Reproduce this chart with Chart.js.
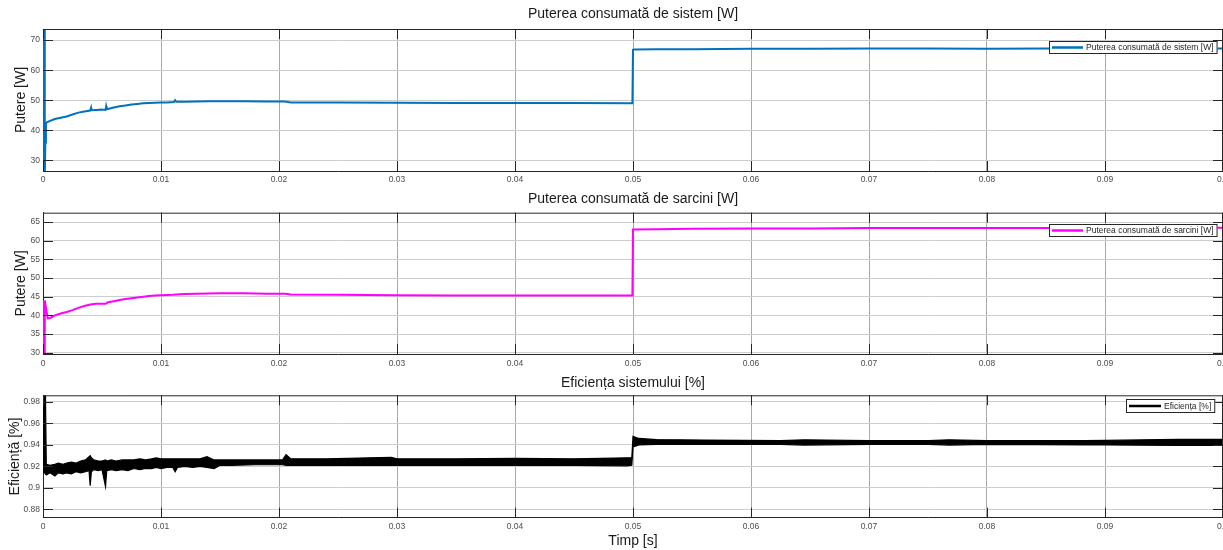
<!DOCTYPE html>
<html>
<head>
<meta charset="utf-8">
<script src="https://cdn.jsdelivr.net/npm/chart.js@4.4.0/dist/chart.umd.min.js"></script>
<style>
  html, body { margin: 0; padding: 0; background: #fff; overflow: hidden; }
  #wrap { position: relative; width: 1223px; height: 550px; }
  canvas { position: absolute; left: 0; }
</style>
</head>
<body>
<div id="wrap">
  <canvas id="c1" width="1223" height="185" style="top:0px"></canvas>
  <canvas id="c2" width="1223" height="185" style="top:185px"></canvas>
  <canvas id="c3" width="1223" height="180" style="top:370px"></canvas>
</div>
<script>
const FONT = "'Liberation Sans', Arial, sans-serif";
const TICK = '#4d4d4d';

// x axis (time, s)
const timeTicks = [0, 0.01, 0.02, 0.03, 0.04, 0.05, 0.06, 0.07, 0.08, 0.09, 0.1];

// power drawn by the system [W]
const sysTime  = [0, 0.0001, 0.00015, 0.0002, 0.00025, 0.0005, 0.001, 0.0015, 0.002, 0.0025, 0.003, 0.0035, 0.004, 0.00407, 0.0041,
                  0.0045, 0.005, 0.0053, 0.00535, 0.0054, 0.0055, 0.006, 0.0065, 0.007, 0.0075, 0.008, 0.0085, 0.009, 0.0095, 0.01,
                  0.0105, 0.0111, 0.0112, 0.0113, 0.012, 0.013, 0.014, 0.015, 0.017, 0.019, 0.0205, 0.021, 0.022, 0.025, 0.03,
                  0.035, 0.04, 0.045, 0.04995, 0.05, 0.0501, 0.052, 0.055, 0.06, 0.065, 0.07, 0.075, 0.08, 0.085, 0.09, 0.095, 0.1];
const sysPower = [30, 80, 25, 36, 42.5, 43.0, 43.8, 44.2, 44.6, 45.3, 45.9, 46.3, 46.6, 47.5, 46.7,
                  46.8, 46.9, 46.8, 48.0, 47.0, 47.1, 47.6, 48.0, 48.3, 48.6, 48.8, 49.0, 49.1, 49.2, 49.3,
                  49.3, 49.4, 50.0, 49.5, 49.5, 49.6, 49.7, 49.7, 49.7, 49.6, 49.6, 49.3, 49.3, 49.3, 49.2,
                  49.1, 49.1, 49.1, 49.0, 66.8, 66.9, 67.0, 67.0, 67.1, 67.1, 67.2, 67.2, 67.1, 67.2, 67.2, 67.2, 67.2];
const sysTicks = [30, 40, 50, 60, 70];

// power drawn by the loads [W]
const loadTime  = [0, 0.0001, 0.00015, 0.0004, 0.0006, 0.001, 0.0015, 0.002, 0.0025, 0.003, 0.0035, 0.004, 0.0045, 0.005, 0.0053, 0.0055,
                   0.006, 0.0065, 0.007, 0.0075, 0.008, 0.0085, 0.009, 0.0095, 0.01, 0.011, 0.012, 0.013, 0.015, 0.017, 0.019,
                   0.0205, 0.021, 0.025, 0.03, 0.035, 0.04, 0.045, 0.04995, 0.05, 0.052, 0.055, 0.06, 0.065, 0.07, 0.08, 0.09, 0.1];
const loadPower = [44, 29, 44, 39.2, 39.3, 40.0, 40.5, 40.9, 41.4, 42.0, 42.5, 42.9, 43.1, 43.1, 43.1, 43.5,
                   43.8, 44.1, 44.4, 44.6, 44.8, 45.0, 45.2, 45.3, 45.4, 45.5, 45.7, 45.8, 45.9, 45.9, 45.8,
                   45.8, 45.6, 45.5, 45.4, 45.3, 45.3, 45.3, 45.3, 63.0, 63.1, 63.2, 63.3, 63.3, 63.4, 63.4, 63.4, 63.5];
const loadTicks = [30, 35, 40, 45, 50, 55, 60, 65];

// system efficiency: the noisy trace is drawn as its lower / upper envelope
const effTime = [0, 0.0002, 0.00028, 0.0006, 0.001, 0.0013, 0.0017, 0.002, 0.0024, 0.0028, 0.0032, 0.0036, 0.0039, 0.004, 0.0041,
                 0.0043, 0.0047, 0.005, 0.0053, 0.0054, 0.0058, 0.0062, 0.0067, 0.0072, 0.0077, 0.0082, 0.0087, 0.0092, 0.0096, 0.01,
                 0.0105, 0.011, 0.0112, 0.0114, 0.012, 0.0127, 0.0133, 0.0139, 0.0145, 0.015, 0.016, 0.018, 0.0203, 0.0206, 0.021,
                 0.024, 0.0295, 0.03, 0.035, 0.04, 0.045, 0.0495, 0.0499, 0.05, 0.0505, 0.052, 0.056, 0.0625, 0.0645, 0.07,
                 0.075, 0.0768, 0.08, 0.0883, 0.09, 0.0962, 0.1];
const effLow  = [0.916, 0.913, 0.912, 0.914, 0.911, 0.914, 0.913, 0.914, 0.913, 0.915, 0.914, 0.915, 0.916, 0.902, 0.915,
                 0.917, 0.916, 0.917, 0.901, 0.916, 0.917, 0.916, 0.917, 0.916, 0.918, 0.917, 0.918, 0.918, 0.919, 0.918,
                 0.919, 0.919, 0.915, 0.919, 0.920, 0.919, 0.920, 0.919, 0.918, 0.921, 0.921, 0.9215, 0.9215, 0.921, 0.921,
                 0.921, 0.921, 0.921, 0.921, 0.921, 0.921, 0.9205, 0.921, 0.938, 0.940, 0.9405, 0.9405, 0.9405, 0.9398, 0.9405,
                 0.9405, 0.9398, 0.9405, 0.940, 0.940, 0.9395, 0.9395];
const effHigh = [0.995, 0.995, 0.922, 0.921, 0.922, 0.923, 0.922, 0.923, 0.924, 0.923, 0.925, 0.926, 0.929, 0.930, 0.928,
                 0.926, 0.925, 0.925, 0.926, 0.925, 0.926, 0.925, 0.926, 0.926, 0.926, 0.927, 0.926, 0.927, 0.928, 0.927,
                 0.927, 0.927, 0.927, 0.927, 0.927, 0.927, 0.927, 0.929, 0.926, 0.926, 0.926, 0.926, 0.926, 0.931, 0.927,
                 0.927, 0.9285, 0.927, 0.927, 0.9275, 0.927, 0.928, 0.928, 0.948, 0.946, 0.945, 0.9445, 0.944, 0.9448, 0.944,
                 0.944, 0.9448, 0.944, 0.944, 0.9442, 0.9452, 0.9452];
const effTicks = [0.88, 0.9, 0.92, 0.94, 0.96, 0.98];

const pts = (xs, ys) => xs.map((x, i) => ({ x: x, y: ys[i] }));

// box around the axes + inward tick marks, matlab style
const frame = {
  id: 'frame',
  afterDraw(chart) {
    const { ctx, chartArea: a, scales } = chart;
    ctx.save();
    ctx.strokeStyle = '#262626';
    ctx.lineWidth = 1;
    ctx.beginPath();
    ctx.moveTo(a.left, a.top + 0.5); ctx.lineTo(a.right, a.top + 0.5);
    ctx.moveTo(a.right - 0.5, a.top); ctx.lineTo(a.right - 0.5, a.bottom);
    timeTicks.forEach(v => {
      const px = Math.round(scales.x.getPixelForValue(v)) + 0.5;
      ctx.moveTo(px, a.bottom); ctx.lineTo(px, a.bottom - 10);
      ctx.moveTo(px, a.top); ctx.lineTo(px, a.top + 10);
    });
    chart.options.plugins.frame.yTicks.forEach(v => {
      const py = Math.round(scales.y.getPixelForValue(v)) + 0.5;
      ctx.moveTo(a.left, py); ctx.lineTo(a.left + 10, py);
      ctx.moveTo(a.right, py); ctx.lineTo(a.right - 10, py);
    });
    ctx.stroke();
    ctx.restore();
  }
};

// boxed legend in the top right corner of the plot
const legendBox = {
  id: 'legendBox',
  afterDraw(chart, args, opts) {
    const { ctx, chartArea: a } = chart;
    ctx.save();
    ctx.font = '8.5px ' + FONT;
    const tw = ctx.measureText(opts.text).width;
    const w = 3 + opts.lineLen + 3 + tw + 4;
    const h = opts.h;
    const x = Math.round(a.right - opts.right - w);
    const y = Math.round(a.top + opts.top);
    ctx.fillStyle = '#fff';
    ctx.fillRect(x, y, w, h);
    ctx.strokeStyle = '#262626';
    ctx.lineWidth = 1;
    ctx.strokeRect(x + 0.5, y + 0.5, w - 1, h - 1);
    ctx.strokeStyle = opts.color;
    ctx.lineWidth = opts.lineWidth;
    ctx.beginPath();
    ctx.moveTo(x + 3, y + h / 2); ctx.lineTo(x + 3 + opts.lineLen, y + h / 2);
    ctx.stroke();
    ctx.fillStyle = '#262626';
    ctx.textBaseline = 'middle';
    ctx.fillText(opts.text, x + 6 + opts.lineLen, y + h / 2 + 0.5);
    ctx.restore();
  }
};

function buildChart(id, o) {
  return new Chart(document.getElementById(id), {
    type: 'line',
    data: { datasets: o.datasets },
    options: {
      responsive: false,
      animation: false,
      devicePixelRatio: 1,
      layout: { padding: 0 },
      elements: { point: { radius: 0 }, line: { tension: 0 } },
      plugins: {
        legend: { display: false },
        tooltip: { enabled: false },
        title: {
          display: true, text: o.title, fullSize: false, color: '#1a1a1a',
          font: { family: FONT, size: 14, weight: 'normal' }, padding: o.titlePad
        },
        legendBox: o.legend,
        frame: { yTicks: o.yTicks }
      },
      scales: {
        x: {
          type: 'linear', min: 0, max: 0.1,
          afterBuildTicks: s => { s.ticks = timeTicks.map(v => ({ value: v })); },
          afterFit: s => { s.height = o.xHeight; s.paddingLeft = 0; s.paddingRight = 0; },
          ticks: { callback: v => String(v), color: TICK, font: { family: FONT, size: 8.5 }, padding: o.xPad, maxRotation: 0, autoSkip: false },
          grid: { color: '#a8a8a8', drawTicks: false },
          border: { color: '#262626' },
          title: o.xTitle || { display: false }
        },
        y: {
          type: 'linear', min: o.yMin, max: o.yMax,
          afterBuildTicks: s => { s.ticks = o.yTicks.map(v => ({ value: v })); },
          afterFit: s => { s.width = 43; s.paddingTop = 0; s.paddingBottom = 0; },
          ticks: { callback: v => String(v), color: TICK, font: { family: FONT, size: 8.5 }, padding: 3, autoSkip: false },
          grid: { color: '#cdcdcd', drawTicks: false },
          border: { color: '#262626' },
          title: { display: true, text: o.yTitle, color: '#1a1a1a', font: { family: FONT, size: 14 }, padding: { top: o.yTitlePad, bottom: 0 } }
        }
      }
    },
    plugins: [frame, legendBox]
  });
}

buildChart('c1', {
  title: 'Puterea consumată de sistem [W]',
  titlePad: { top: 6, bottom: 6.2 },
  yTitle: 'Putere [W]', yTitlePad: 12.6,
  yMin: 26.5, yMax: 73.7, yTicks: sysTicks,
  xHeight: 14, xPad: 4,
  datasets: [{ data: pts(sysTime, sysPower), borderColor: '#0072BD', borderWidth: 2, fill: false }],
  legend: { text: 'Puterea consumată de sistem [W]', color: '#0072BD', lineWidth: 2.5, lineLen: 31, right: 5, top: 12, h: 13 }
});

buildChart('c2', {
  title: 'Puterea consumată de sarcini [W]',
  titlePad: { top: 5.5, bottom: 5.4 },
  yTitle: 'Putere [W]', yTitlePad: 13,
  yMin: 29.65, yMax: 67.5, yTicks: loadTicks,
  xHeight: 16, xPad: 5,
  datasets: [{ data: pts(loadTime, loadPower), borderColor: '#FF00FF', borderWidth: 2, fill: false }],
  legend: { text: 'Puterea consumată de sarcini [W]', color: '#FF00FF', lineWidth: 2.5, lineLen: 31, right: 5, top: 11, h: 13 }
});

buildChart('c3', {
  title: 'Eficiența sistemului [%]',
  titlePad: { top: 4.5, bottom: 4 },
  yTitle: 'Eficiență [%]', yTitlePad: 6.6,
  yMin: 0.8722, yMax: 0.9862, yTicks: effTicks,
  xHeight: 32.3, xPad: 4,
  xTitle: { display: true, text: 'Timp [s]', color: '#1a1a1a', font: { family: FONT, size: 14 }, padding: { top: 2, bottom: 0 } },
  datasets: [
    { data: pts(effTime, effHigh), borderColor: '#000', backgroundColor: '#000', borderWidth: 1.2, fill: '+1' },
    { data: pts(effTime, effLow), borderColor: '#000', borderWidth: 1.2, fill: false }
  ],
  legend: { text: 'Eficiența [%]', color: '#000', lineWidth: 2.5, lineLen: 32, right: 8, top: 4, h: 14 }
});
</script>
</body>
</html>
